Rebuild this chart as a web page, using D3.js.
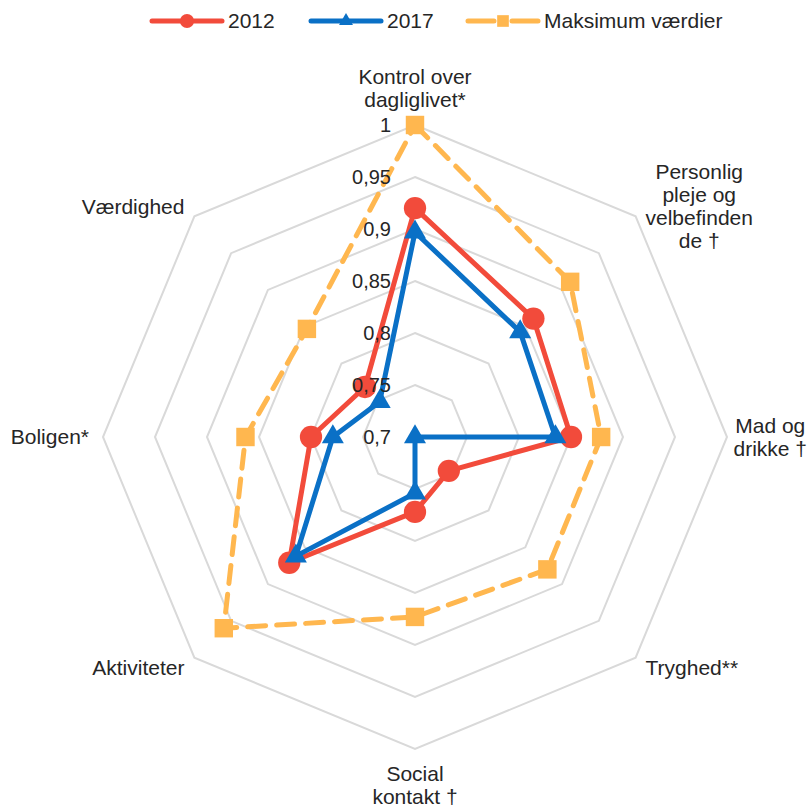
<!DOCTYPE html>
<html>
<head>
<meta charset="utf-8">
<script src="https://cdn.jsdelivr.net/npm/d3@7"></script>
<style>
  body { margin: 0; background: #fff; }
  text { font-family: "Liberation Sans", Arial, sans-serif; fill: #262626; }
</style>
</head>
<body>
<svg id="chart"></svg>
<script>
// donnees
const categories = [
  ["Kontrol over", "dagliglivet*"],
  ["Personlig", "pleje og", "velbefinden", "de \u2020"],
  ["Mad og", "drikke \u2020"],
  ["Tryghed**"],
  ["Social", "kontakt \u2020"],
  ["Aktiviteter"],
  ["Boligen*"],
  ["Værdighed"]
];
const values2012 = [0.920, 0.861, 0.850, 0.746, 0.772, 0.871, 0.800, 0.768];
const values2017 = [0.897, 0.843, 0.835, 0.700, 0.754, 0.862, 0.779, 0.748];
const valuesMax  = [1.000, 0.911, 0.879, 0.880, 0.873, 0.960, 0.863, 0.847];
const ticks = [0.7, 0.75, 0.8, 0.85, 0.9, 0.95, 1];
const seriesNames = ["2012", "2017", "Maksimum værdier"];

const width = 812, height = 808;
const cx = 415, cy = 437, R = 312;

const svg = d3.select("#chart").attr("width", width).attr("height", height);

const r = d3.scaleLinear().domain([0.7, 1]).range([0, R]);
const angle = d3.scaleLinear().domain([0, categories.length]).range([0, 2 * Math.PI]);

function pt(i, v) {
  const a = angle(i), rr = r(v);
  return [cx + rr * Math.sin(a), cy - rr * Math.cos(a)];
}

// grille octogonale
const grid = svg.append("g");
ticks.slice(1).forEach(t => {
  grid.append("path")
    .attr("d", d3.line()(categories.map((c, i) => pt(i, t))) + "Z")
    .attr("fill", "none")
    .attr("stroke", "#d9d9d9")
    .attr("stroke-width", 2);
});

// series
const series = [
  {name: seriesNames[2], vals: valuesMax, color: "#FFB74F", dash: "18,11", marker: "square"},
  {name: seriesNames[0], vals: values2012, color: "#F24B3B", dash: null, marker: "circle"},
  {name: seriesNames[1], vals: values2017, color: "#0A70C6", dash: null, marker: "triangle"}
];

const sym = {circle: d3.symbolCircle, triangle: d3.symbolTriangle, square: d3.symbolSquare};
const symSize = {circle: 390, triangle: 210, square: 340};

const line = d3.lineRadial()
  .angle((d, i) => angle(i))
  .radius(d => r(d))
  .curve(d3.curveLinearClosed);

const plot = svg.append("g").attr("transform", `translate(${cx},${cy})`);
series.forEach(s => {
  plot.append("path")
    .datum(s.vals)
    .attr("d", line)
    .attr("fill", "none")
    .attr("stroke", s.color)
    .attr("stroke-width", 5)
    .attr("stroke-linejoin", "round")
    .attr("stroke-linecap", s.dash ? "round" : "butt")
    .attr("stroke-dasharray", s.dash);
  plot.selectAll(null)
    .data(s.vals)
    .enter().append("path")
    .attr("d", d3.symbol().type(sym[s.marker]).size(symSize[s.marker]))
    .attr("transform", (d, i) => {
      const p = pt(i, d);
      return `translate(${p[0] - cx},${p[1] - cy})`;
    })
    .attr("fill", s.color);
});

// etiquettes de l'axe radial
svg.append("g").selectAll("text")
  .data(ticks)
  .enter().append("text")
  .attr("x", cx - 24)
  .attr("y", d => cy - r(d))
  .attr("dy", "0.35em")
  .attr("text-anchor", "end")
  .style("font-size", "20px")
  .text(d => d3.format(",")(d).replace(".", ","));

// etiquettes des categories
const lh = 23;
const labels = svg.append("g");
categories.forEach((lines, i) => {
  const a = angle(i);
  const sx = Math.sin(a), cyDir = -Math.cos(a);
  const p = [cx + (R + 14) * sx, cy + (R + 14) * cyDir];
  const g = labels.append("g");
  const txt = lines.map((l, k) => g.append("text")
    .style("font-size", "21px")
    .attr("text-anchor", "middle")
    .text(l));
  const w = d3.max(txt, t => t.node().getComputedTextLength());
  let xc = p[0];
  if (sx > 0.1) xc = p[0] + w / 2;
  if (sx < -0.1) xc = p[0] - w / 2;
  // garder le texte dans le cadre
  xc = Math.min(xc, width - 5 - w / 2);
  xc = Math.max(xc, 5 + w / 2);
  const blockH = lines.length * lh;
  let y0;
  if (cyDir < -0.9) y0 = p[1] - blockH;
  else if (cyDir > 0.9) y0 = p[1] - 1;
  else y0 = p[1] - blockH / 2;
  txt.forEach((t, k) => t.attr("x", xc).attr("y", y0 + k * lh + lh / 2).attr("dy", "0.35em"));
});

// legende
const legend = svg.append("g").attr("transform", "translate(0,21)");
const legItems = [
  {s: series[1], x: 152},
  {s: series[2], x: 311},
  {s: series[0], x: 468}
];
legItems.forEach(it => {
  const g = legend.append("g").attr("transform", `translate(${it.x},0)`);
  g.append("line")
    .attr("x1", 0).attr("x2", 70).attr("y1", 0).attr("y2", 0)
    .attr("stroke", it.s.color)
    .attr("stroke-width", 5)
    .attr("stroke-linecap", "round")
    .attr("stroke-dasharray", it.s.dash ? "26,18" : null);
  g.append("path")
    .attr("d", d3.symbol().type(sym[it.s.marker]).size(symSize[it.s.marker] * 0.4))
    .attr("transform", "translate(35,0)")
    .attr("fill", it.s.color);
  g.append("text")
    .attr("x", 76).attr("y", 0).attr("dy", "0.35em")
    .style("font-size", "21px")
    .text(it.s.name);
});
</script>
</body>
</html>
